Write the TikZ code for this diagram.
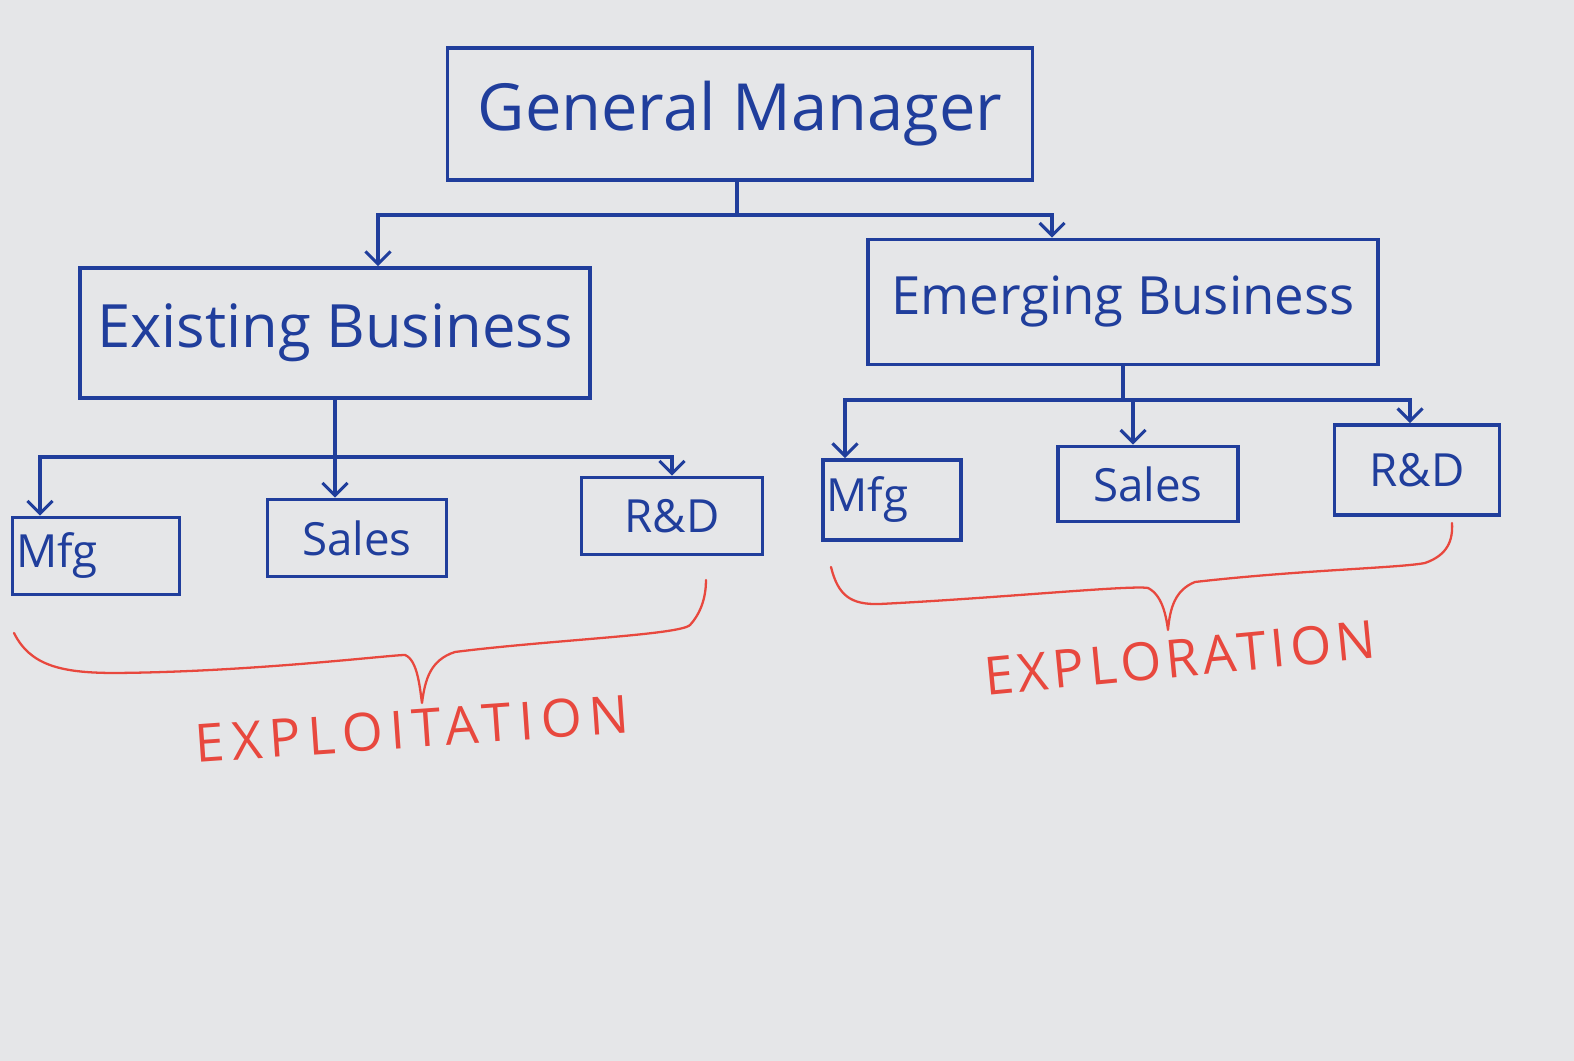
\documentclass[tikz,border=0pt]{standalone}
\usepackage{fontspec}
\setmainfont{Open Sans}
\usetikzlibrary{arrows.meta}
\definecolor{ink}{RGB}{32,62,156}
\definecolor{redink}{RGB}{232,72,62}
\definecolor{paper}{RGB}{229,230,232}
\tikzset{
  box/.style={draw=ink, line width=2pt, text=ink, inner sep=2pt, rectangle},
  bigbox/.style={box, font=\fontsize{34}{40}\selectfont},
  smallbox/.style={box, font=\fontsize{26}{30}\selectfont},
  link/.style={draw=ink, line width=1.8pt},
  arrow/.style={link, -{Straight Barb[length=2.5mm,width=5mm]}},
  brace/.style={draw=redink, line width=1.3pt, line cap=round, line join=round},
  tag/.style={text=redink, font=\fontsize{30}{36}\selectfont},
}

\begin{document}
\begin{tikzpicture}
\useasboundingbox (0,0) rectangle (31.48,21.22);
\fill[paper] (0,0) rectangle (31.48,21.22);
% top level
\node[bigbox, font=\fontsize{37}{44}\selectfont, minimum width=11.7cm, minimum height=2.64cm] (gm) at (14.8,18.94) {General Manager};
\node[bigbox, minimum width=10.2cm, minimum height=2.6cm] (exist) at (6.7,14.56) {Existing Business};
\node[bigbox, font=\fontsize{30}{36}\selectfont, minimum width=10.2cm, minimum height=2.5cm] (emerg) at (22.46,15.18) {Emerging Business};
% units of the existing business
\node[smallbox, minimum height=1.54cm, text width=3.2cm, align=left] (mfgA) at (1.92,10.1) {Mfg};
\node[smallbox, minimum width=3.58cm, minimum height=1.54cm] (salesA) at (7.14,10.46) {Sales};
\node[smallbox, minimum width=3.62cm, minimum height=1.54cm] (rndA) at (13.44,10.9) {R\&D};
% units of the emerging business
\node[smallbox, minimum height=1.6cm, text width=2.62cm, align=left] (mfgB) at (17.84,11.22) {Mfg};
\node[smallbox, minimum width=3.6cm, minimum height=1.5cm] (salesB) at (22.96,11.54) {Sales};
\node[smallbox, minimum width=3.3cm, minimum height=1.8cm] (rndB) at (28.34,11.82) {R\&D};
% connectors
\coordinate (j1) at (14.74,16.92);
\coordinate (j2) at (6.7,12.08);
\coordinate (j3) at (22.46,13.22);
\draw[link] (gm.south -| j1) -- (j1);
\draw[arrow] (j1) -| ([xshift=0.86cm]exist.north);
\draw[arrow] (j1) -| ([xshift=-1.42cm]emerg.north);
\draw[link] (exist.south) -- (j2);
\draw[arrow] (j2) -| ([xshift=-1.12cm]mfgA.north);
\draw[arrow] (j2) -- ([xshift=-0.44cm]salesA.north);
\draw[arrow] (j2) -| (rndA.north);
\draw[link] (emerg.south) -- (j3);
\draw[arrow] (j3) -| ([xshift=-0.94cm]mfgB.north);
\draw[arrow] (j3) -| ([xshift=-0.3cm]salesB.north);
\draw[arrow] (j3) -| ([xshift=-0.14cm]rndB.north);
% braces
\draw[brace] (0.28,8.56) .. controls (0.6,7.92) and (1.2,7.76) .. (2.3,7.76)
  .. controls (5.0,7.78) and (7.8,8.12) .. (8.1,8.12)
  .. controls (8.36,8.02) and (8.4,7.42) .. (8.44,7.16)
  .. controls (8.5,7.62) and (8.6,8.02) .. (9.1,8.18)
  .. controls (11.0,8.42) and (13.6,8.52) .. (13.8,8.72)
  .. controls (14.04,8.98) and (14.12,9.32) .. (14.12,9.62);
\draw[brace] (16.62,9.88) .. controls (16.76,9.32) and (17.0,9.12) .. (17.6,9.14)
  .. controls (20.0,9.26) and (22.6,9.52) .. (22.96,9.46)
  .. controls (23.24,9.32) and (23.32,8.92) .. (23.36,8.62)
  .. controls (23.4,9.06) and (23.5,9.42) .. (23.9,9.58)
  .. controls (26.0,9.82) and (28.0,9.86) .. (28.5,9.96)
  .. controls (28.96,10.12) and (29.06,10.42) .. (29.04,10.76);
\node[tag, rotate=4] (exploit) at (8.24,6.64) {\addfontfeatures{LetterSpace=14}EXPLOITATION};
\node[tag, rotate=5.5] (explore) at (23.6,8.06) {\addfontfeatures{LetterSpace=9}EXPLORATION};
\end{tikzpicture}
\end{document}
